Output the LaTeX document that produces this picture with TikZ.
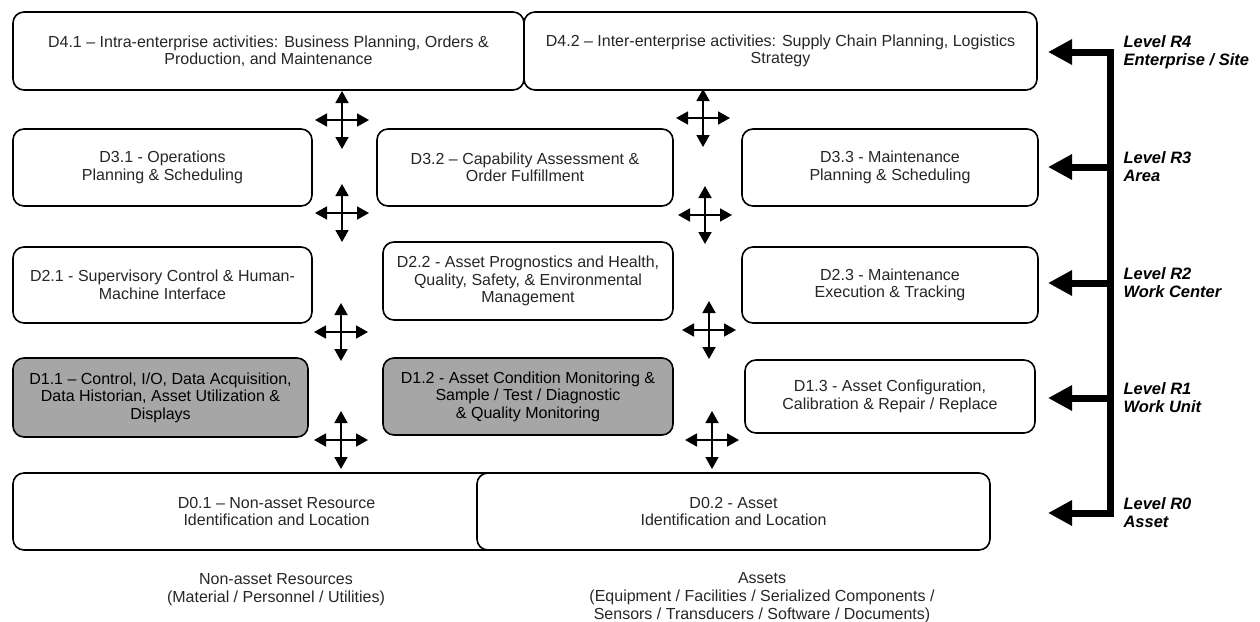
\documentclass[tikz,border=0pt]{standalone}
\usepackage{fontspec}
\setmainfont{Liberation Sans}
\usetikzlibrary{arrows.meta}
\begin{document}
\begin{tikzpicture}[x=1pt,y=-1pt,
  box/.style={draw=black, line width=1.6pt, rounded corners=11pt, fill=white,
    align=center, inner sep=0pt, text=black!85,
    font=\fontsize{16}{17.5}\selectfont},
  graybox/.style={box, fill=black!35, text=black},
  lvl/.style={line width=7pt, line join=miter},
  lvltip/.style={-{Triangle[length=24pt,width=24pt]}},
  dbl/.style={line width=1.8pt, -{Triangle[length=12pt,width=13pt]}},
  lvllabel/.style={anchor=west, align=left, font=\fontsize{16.5}{18}\selectfont\bfseries\itshape},
  note/.style={align=center, text=black!85, font=\fontsize{16}{18}\selectfont}]
\useasboundingbox (0,0) rectangle (1260,621);

% Row 4
\node[box, minimum width=511pt, minimum height=78pt] (d41) at (268.5,51)
  {D4.1 -- Intra-enterprise activities: Business Planning, Orders \&\\ Production, and Maintenance};
\node[box, minimum width=513pt, minimum height=78pt] (d42) at (780.5,51)
  {D4.2 -- Inter-enterprise activities: Supply Chain Planning, Logistics\\ Strategy};

% Row 3
\node[box, minimum width=299pt, minimum height=77pt] (d31) at (162.5,167.5)
  {D3.1 - Operations\\ Planning \& Scheduling};
\node[box, minimum width=296pt, minimum height=77pt] (d32) at (525,167.5)
  {D3.2 -- Capability Assessment \&\\ Order Fulfillment};
\node[box, minimum width=296pt, minimum height=77pt] (d33) at (890,167.5)
  {D3.3 - Maintenance\\ Planning \& Scheduling};

% Row 2
\node[box, minimum width=299pt, minimum height=76pt] (d21) at (162.5,285)
  {D2.1 - Supervisory Control \& Human-\\ Machine Interface};
\node[box, minimum width=290pt, minimum height=78pt] (d22) at (528,281)
  {D2.2 - Asset Prognostics and Health,\\ Quality, Safety, \& Environmental\\ Management};
\node[box, minimum width=296pt, minimum height=76pt] (d23) at (890,285)
  {D2.3 - Maintenance\\ Execution \& Tracking};

% Row 1
\node[graybox, minimum width=295pt, minimum height=79pt] (d11) at (160.5,397.5)
  {D1.1 -- Control, I/O, Data Acquisition,\\ Data Historian, Asset Utilization \&\\ Displays};
\node[graybox, minimum width=290pt, minimum height=77pt] (d12) at (528,396.5)
  {D1.2 - Asset Condition Monitoring \&\\ Sample / Test / Diagnostic\\ \& Quality Monitoring};
\node[box, minimum width=290pt, minimum height=73pt] (d13) at (890,396.5)
  {D1.3 - Asset Configuration,\\ Calibration \& Repair / Replace};

% Row 0
\node[box, minimum width=527pt, minimum height=77pt] (d01) at (276.5,511.5)
  {D0.1 -- Non-asset Resource\\ Identification and Location};
\node[box, minimum width=513pt, minimum height=77pt] (d02) at (733.5,511.5)
  {D0.2 - Asset\\ Identification and Location};

% Bottom notes
\node[note] (nar) at (276,590) {Non-asset Resources\\ (Material / Personnel / Utilities)};
\node[note] (ast) at (762,598) {Assets\\ (Equipment / Facilities / Serialized Components /\\ Sensors / Transducers / Software / Documents)};

% Cross arrows
\foreach \n/\cx/\cy in {a/342/120, b/703/118, c/342/213, d/705/215, e/341/332, f/709/330, g/341/440, h/712/440}{
  \coordinate (x\n) at (\cx,\cy);
  \draw[dbl] (x\n) -- ++(0,-29);
  \draw[dbl] (x\n) -- ++(0,29);
  \draw[dbl] (x\n) -- ++(-27,0);
  \draw[dbl] (x\n) -- ++(27,0);
}

% Level bar
\coordinate (c4) at (1110,52);
\coordinate (c3) at (1110,167);
\coordinate (c2) at (1110,283);
\coordinate (c1) at (1110,398);
\coordinate (c0) at (1110,513);
\coordinate (t4) at (1048,52);
\coordinate (t3) at (1048,167);
\coordinate (t2) at (1048,283);
\coordinate (t1) at (1048,398);
\coordinate (t0) at (1048,513);
\draw[lvl, {Triangle[length=24pt,width=24pt]}-{Triangle[length=24pt,width=24pt]}] (t4) -- (c4) -- (c0) -- (t0);
\draw[lvl, lvltip] (c3) -- (t3);
\draw[lvl, lvltip] (c2) -- (t2);
\draw[lvl, lvltip] (c1) -- (t1);

\node[lvllabel] (l4) at (1120,52) {Level R4\\ Enterprise / Site};
\node[lvllabel] (l3) at (1120,167) {Level R3\\ Area};
\node[lvllabel] (l2) at (1120,283) {Level R2\\ Work Center};
\node[lvllabel] (l1) at (1120,398) {Level R1\\ Work Unit};
\node[lvllabel] (l0) at (1120,513) {Level R0\\ Asset};
\end{tikzpicture}
\end{document}
